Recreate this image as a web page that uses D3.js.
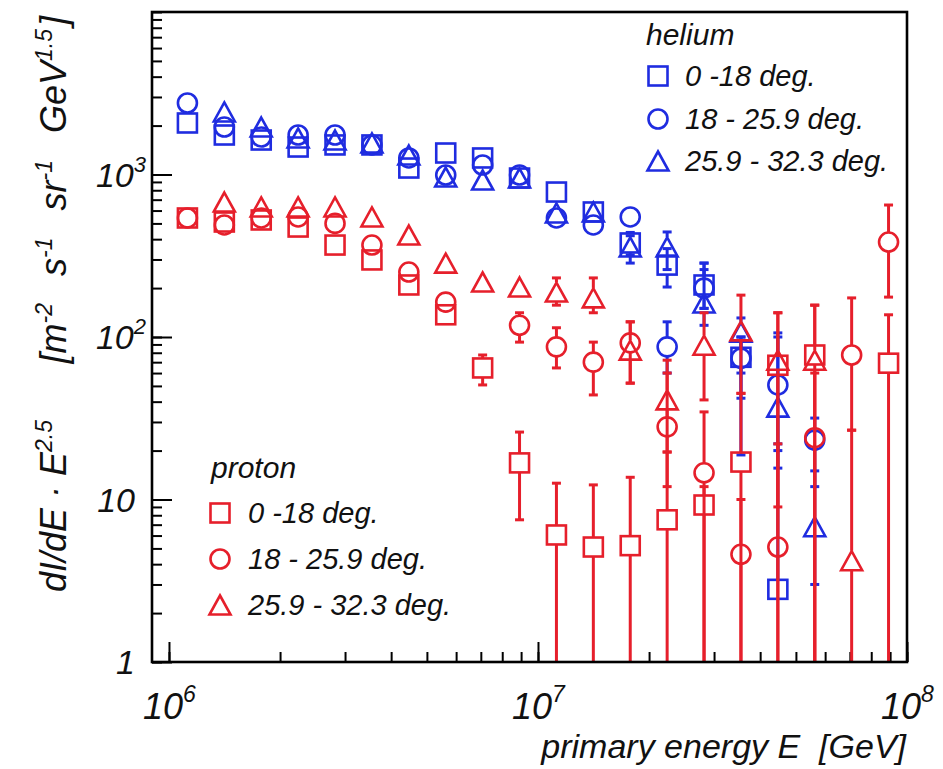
<!DOCTYPE html>
<html>
<head>
<meta charset="utf-8">
<script src="https://cdn.jsdelivr.net/npm/d3@7"></script>
<style>
  body { margin: 0; background: #fff; }
  svg text { font-family: "Liberation Sans", Arial, sans-serif; font-style: italic; fill: #111; }
</style>
</head>
<body>
<div id="chart"></div>
<script>
// energy bins, log10(E/GeV)
const logEnergy = [6.05, 6.15, 6.25, 6.35, 6.45, 6.55, 6.65, 6.75, 6.85, 6.95,
                   7.05, 7.15, 7.25, 7.35, 7.45, 7.55, 7.65, 7.75, 7.85, 7.95];

// helium, 0 - 18 deg (blue squares)
const heliumA   = [2075, 1750, 1630, 1476, 1520, 1520, 1096, 1356, 1264, 951, 780, 588, 379, 277, 209, 75, 2.8, null, null, null];
const heliumAHi = [null, null, null, null, null, null, null, null, null, null, null, 650, 440, 350, 285, 100, 22, null, null, null];
const heliumALo = [null, null, null, null, null, null, null, null, null, null, null, 530, 320, 203, 150, 42, null, null, null, null];
// helium, 18 - 25.9 deg (blue circles)
const heliumB   = [2754, 1960, 1701, 1750, 1750, 1520, 1264, 993, 1144, 993, 540, 489, 548, 87, 200, 74, 50.7, 23.2, null, null];
const heliumBHi = [null, null, null, null, null, null, null, null, null, null, null, null, null, 124, 260, 100, 106, 31.7, null, null];
const heliumBLo = [null, null, null, null, null, null, null, null, null, null, null, null, null, 60, 150, 18.8, 15.6, 12, null, null];
// helium, 25.9 - 32.3 deg (blue triangles)
const heliumC   = [null, 2425, 1960, 1678, 1630, 1563, 1318, 965, 925, 951, 580, 588, 358, 358, 162, 107, 37, 6.8, null, null];
const heliumCHi = [null, null, null, null, null, null, null, null, null, null, null, null, 420, 443, 285, 131, 100, 15, null, null];
const heliumCLo = [null, null, null, null, null, null, null, null, null, null, null, null, 285, 260, 118, 60, 20, 3, null, null];

// proton, 0 - 18 deg (red squares)
const protonA   = [540, 510, 525, 475, 368, 298, 209, 137, 64.5, 16.8, 6.05, 5.1, 5.2, 7.5, 9.25, 17, 67, 77.5, null, 69];
const protonAHi = [null, null, null, null, null, null, null, null, 77.5, 26, 12.6, 12.3, 13.7, 19.6, 12, 45, 141, 157, null, 137];
const protonALo = [null, null, null, null, null, null, null, null, 50.7, 7.5, 0.5, 0.5, 0.5, 0.5, 0.5, 0.5, 0.5, 0.5, null, 0.5];
// proton, 18 - 25.9 deg (red circles)
const protonB   = [540, 489, 540, 548, 500, 368, 251, 164, null, 118, 87, 70, 92, 28, 14.6, 4.6, 5.1, 24, 77.5, 384];
const protonBHi = [null, null, null, null, null, null, null, null, null, 141, 114, 93, 124, 60, 34.6, 10, 22, 60, 174, 649];
const protonBLo = [null, null, null, null, null, null, null, null, null, 93, 64.5, 44, 52, 12, 0.5, 0.5, 0.5, 0.5, 26.7, 176];
// proton, 25.9 - 32.3 deg (red triangles)
const protonC   = [null, 677, 631, 631, 631, 548, 424, 285, 218, 203, 189, 174, 83, 41, 89, 109, 72, 72, 4.2, null];
const protonCHi = [null, null, null, null, null, null, null, null, null, 230, 231, 231, 124, 72, 141, 181, 141, 157, 26.7, null];
const protonCLo = [null, null, null, null, null, null, null, null, null, 180, 157, 141, 52, 19.6, 41, 45, 9, 0.5, 0.5, null];

const legendLabels = ["0 -18 deg.", "18 - 25.9 deg.", "25.9 - 32.3 deg."];
const xMajor = [1e6, 1e7, 1e8];
const xMajorExp = ["6", "7", "8"];
const yMajor = [1, 10, 100, 1000];
const yMajorBase = ["1", "10", "10", "10"];
const yMajorExp = ["", "", "2", "3"];

const blue = "#1f2ce0";
const red = "#e61f2b";

const W = 943, H = 769;
const plotL = 152, plotR = 907, plotT = 12, plotB = 662;

const svg = d3.select("#chart").append("svg")
    .attr("width", W).attr("height", H)
    .style("background", "#fff");

const x = d3.scaleLog().domain([Math.pow(10, 5.954), 1e8]).range([plotL, plotR]);
const y = d3.scaleLog().domain([1, 1e4]).range([plotB, plotT]);

svg.append("clipPath").attr("id", "plotclip")
  .append("rect").attr("x", plotL).attr("y", plotT)
    .attr("width", plotR - plotL).attr("height", plotB - plotT);

// ticks (inward)
function styleAxis(g){
    g.select(".domain").remove();
    g.selectAll(".tick line").attr("stroke", "#000").attr("stroke-width", 2);
    g.selectAll(".tick text").remove();
}
const xMinor = x.ticks().filter(v => v >= 1e6);
svg.append("g").attr("transform", `translate(0,${plotB})`)
    .call(d3.axisBottom(x).tickValues(xMinor).tickSize(-10).tickFormat(""))
    .call(styleAxis);
svg.append("g").attr("transform", `translate(0,${plotB})`)
    .call(d3.axisBottom(x).tickValues(xMajor).tickSize(-20).tickFormat(""))
    .call(styleAxis);
const yMinor = y.ticks();
svg.append("g").attr("transform", `translate(${plotL},0)`)
    .call(d3.axisLeft(y).tickValues(yMinor).tickSize(-10).tickFormat(""))
    .call(styleAxis);
svg.append("g").attr("transform", `translate(${plotL},0)`)
    .call(d3.axisLeft(y).tickValues(yMajor).tickSize(-20).tickFormat(""))
    .call(styleAxis);

// tick labels
xMajor.forEach((v, i) => {
    const t = svg.append("text")
        .attr("x", x(v) - 26).attr("y", 719)
        .attr("font-size", 36);
    t.append("tspan").text("10");
    t.append("tspan").attr("dy", -17).attr("font-size", 23).text(xMajorExp[i]);
});
yMajor.forEach((v, i) => {
    const t = svg.append("text")
        .attr("x", yMajorExp[i] ? 146 : 135).attr("y", y(v) + 12)
        .attr("text-anchor", "end")
        .attr("font-size", 34);
    t.append("tspan").text(yMajorBase[i]);
    if (yMajorExp[i]) t.append("tspan").attr("dy", -15).attr("font-size", 22).text(yMajorExp[i]);
});

// axis titles
svg.append("text")
    .attr("x", 906).attr("y", 758)
    .attr("text-anchor", "end")
    .attr("font-size", 34)
    .text("primary energy E\u00A0\u00A0[GeV]");

function supText(g, parts, size, supSize){
    parts.forEach(p => {
        if (p.sup){
            g.append("tspan").attr("dy", -14).attr("font-size", supSize).text(p.t);
            g.append("tspan").attr("dy", 14).attr("font-size", size).text("\u200A");
        } else {
            g.append("tspan").attr("font-size", size).text(p.t);
        }
    });
}
const yt1 = svg.append("text").attr("transform", "translate(66,592) rotate(-90)");
supText(yt1, [{t: "dI/dE \u00B7 E"}, {t: "2.5", sup: true}], 36, 23);
const yt2 = svg.append("text").attr("transform", "translate(66,16) rotate(-90)")
    .attr("text-anchor", "end").attr("word-spacing", 14);
supText(yt2, [{t: "[m"}, {t: "-2", sup: true}, {t: "\u00A0s"}, {t: "-1", sup: true},
              {t: "\u00A0sr"}, {t: "-1", sup: true}, {t: "\u00A0GeV"}, {t: "1.5", sup: true}, {t: "]"}], 36, 23);

// markers
const half = 10;
function marker(g, shape, color, cx, cy){
    if (shape === "square"){
        g.append("rect").attr("x", cx - 9.5).attr("y", cy - 9.5)
            .attr("width", 19).attr("height", 19)
            .attr("fill", "none").attr("stroke", color).attr("stroke-width", 2.6);
    } else if (shape === "circle"){
        g.append("circle").attr("cx", cx).attr("cy", cy).attr("r", 9.5)
            .attr("fill", "none").attr("stroke", color).attr("stroke-width", 2.6);
    } else {
        const w = 21, h = 19;
        g.append("path")
            .attr("d", `M${cx},${cy - h/2}L${cx + w/2},${cy + h/2}L${cx - w/2},${cy + h/2}Z`)
            .attr("fill", "none").attr("stroke", color).attr("stroke-width", 2.6)
            .attr("stroke-linejoin", "miter");
    }
}

const series = [
    {vals: heliumA, hi: heliumAHi, lo: heliumALo, shape: "square",   color: blue},
    {vals: heliumB, hi: heliumBHi, lo: heliumBLo, shape: "circle",   color: blue},
    {vals: heliumC, hi: heliumCHi, lo: heliumCLo, shape: "triangle", color: blue},
    {vals: protonA, hi: protonAHi, lo: protonALo, shape: "square",   color: red},
    {vals: protonB, hi: protonBHi, lo: protonBLo, shape: "circle",   color: red},
    {vals: protonC, hi: protonCHi, lo: protonCLo, shape: "triangle", color: red}
];

const plot = svg.append("g").attr("clip-path", "url(#plotclip)");

series.forEach(s => {
    const g = plot.append("g");
    s.vals.forEach((v, i) => {
        if (v == null) return;
        const cx = x(Math.pow(10, logEnergy[i]));
        const cy = y(v);
        const bar = (y1, y2) => g.append("line")
            .attr("x1", cx).attr("x2", cx).attr("y1", y1).attr("y2", y2)
            .attr("stroke", s.color).attr("stroke-width", 3);
        const cap = yy => g.append("line")
            .attr("x1", cx - 4.5).attr("x2", cx + 4.5).attr("y1", yy).attr("y2", yy)
            .attr("stroke", s.color).attr("stroke-width", 3);
        if (s.hi[i] != null){
            const yh = y(s.hi[i]);
            if (cy - yh > half){ bar(yh, cy - half); cap(yh); }
        }
        if (s.lo[i] != null){
            const yl = y(s.lo[i]);
            if (yl - cy > half){ bar(cy + half, yl); cap(yl); }
        }
    });
    s.vals.forEach((v, i) => {
        if (v == null) return;
        marker(g, s.shape, s.color, x(Math.pow(10, logEnergy[i])), y(v));
    });
});

// legends
function legend(title, tx, ty, sx, textX, rowsY, color){
    svg.append("text").attr("x", tx).attr("y", ty).attr("font-size", 30).text(title);
    ["square", "circle", "triangle"].forEach((shape, i) => {
        marker(svg, shape, color, sx, rowsY[i]);
        svg.append("text").attr("x", textX).attr("y", rowsY[i] + 10)
            .attr("font-size", 29).text(legendLabels[i]);
    });
}
legend("helium", 646, 45, 658, 685, [76, 119, 161], blue);
legend("proton", 211, 478, 220, 248, [513, 559, 605], red);

// frame
svg.append("rect")
    .attr("x", plotL).attr("y", plotT)
    .attr("width", plotR - plotL).attr("height", plotB - plotT)
    .attr("fill", "none").attr("stroke", "#000").attr("stroke-width", 2.6);
</script>
</body>
</html>
